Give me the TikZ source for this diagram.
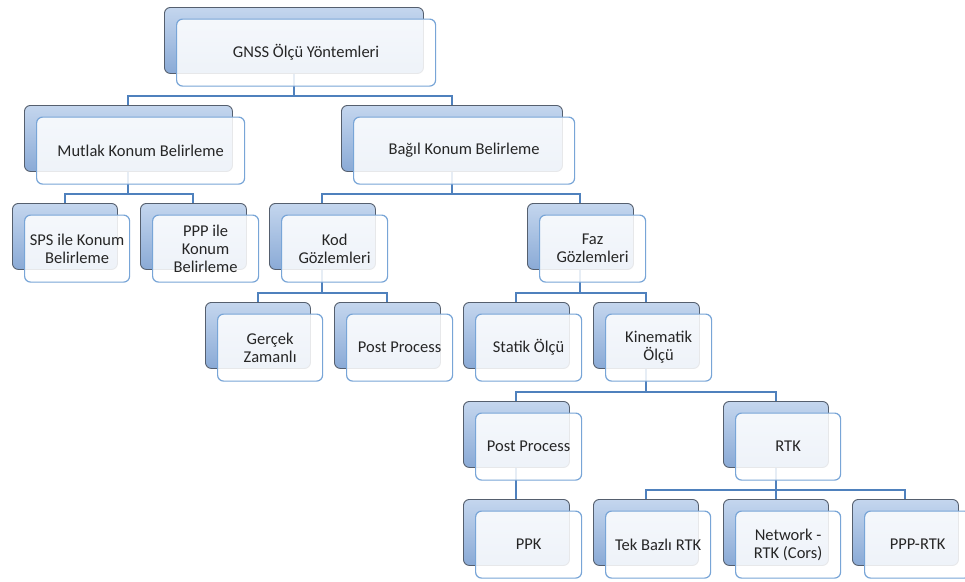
\documentclass[tikz,border=0pt]{standalone}
\usepackage{fontspec}
\setmainfont{Carlito}
\usetikzlibrary{positioning}
\pgfdeclarelayer{bg}
\pgfsetlayers{bg,main}

\definecolor{connblue}{RGB}{79,129,189}
\definecolor{frontedge}{RGB}{120,165,215}
\definecolor{backedge}{RGB}{85,95,110}
\definecolor{backtop}{RGB}{196,214,238}
\definecolor{backbot}{RGB}{138,170,214}
\definecolor{txt}{RGB}{38,38,38}

\tikzset{
  backbox/.style={draw=backedge, line width=0.9pt, rounded corners=6pt,
    top color=backtop, bottom color=backbot, minimum height=66pt,
    inner sep=0pt, anchor=north west},
  frontbox/.style={draw=frontedge, line width=1.2pt, rounded corners=6pt,
    fill=white, fill opacity=0.86, text opacity=1, text=txt,
    minimum height=67pt, inner sep=2pt, anchor=north west, align=center,
    font=\fontsize{16.5}{18}\selectfont},
  conn/.style={draw=connblue, line width=2pt},
}

% #1 name, #2 left, #3 top, #4 width, #5 label
\newcommand\boxpair[5]{%
  \node[backbox, minimum width=#4pt] (#1b) at (#2pt,-#3pt) {};
  \node[frontbox, minimum width=#4pt] (#1) at ([xshift=12pt,yshift=-11.5pt]#1b.north west) {#5};
}

\begin{document}
\begin{tikzpicture}
\useasboundingbox (0pt,0pt) rectangle (965pt,-581pt);

% level 1
\boxpair{gnss}{164}{7}{259}{GNSS Ölçü Yöntemleri}
% level 2
\boxpair{mut}{24}{105}{208}{Mutlak Konum Belirleme}
\boxpair{bag}{341}{105}{221}{Bağıl Konum Belirleme}
% level 3
\boxpair{sps}{12}{203}{105}{SPS ile Konum\\Belirleme}
\boxpair{ppp}{140}{203}{106}{PPP ile\\Konum\\Belirleme}
\boxpair{kod}{269}{203}{106}{Kod\\Gözlemleri}
\boxpair{faz}{527}{203}{106}{Faz\\Gözlemleri}
% level 4
\boxpair{ger}{205}{302}{105}{Gerçek\\Zamanlı}
\boxpair{ppa}{334}{302}{106}{Post Process}
\boxpair{sta}{463}{302}{106}{Statik Ölçü}
\boxpair{kin}{593}{302}{106}{Kinematik\\Ölçü}
% level 5
\boxpair{ppb}{463}{401}{106}{Post Process}
\boxpair{rtk}{723}{401}{105}{RTK}
% level 6
\boxpair{ppk}{463}{499}{106}{PPK}
\boxpair{tek}{593}{499}{105}{Tek Bazlı RTK}
\boxpair{net}{723}{499}{105}{Network -\\RTK (Cors)}
\boxpair{prt}{852}{499}{106}{PPP-RTK}

% white page and connectors, drawn behind the boxes
\begin{pgfonlayer}{bg}
  \fill[white] (0pt,0pt) rectangle (965pt,-581pt);
  \foreach \p/\c in {gnss/mut, gnss/bag, mut/sps, mut/ppp, bag/kod, bag/faz,
                     kod/ger, kod/ppa, faz/sta, faz/kin, kin/ppb, kin/rtk,
                     ppb/ppk, rtk/tek, rtk/net, rtk/prt}
    \draw[conn] (\c b.north) -- ++(0pt,9pt) -| (\p b.south);
\end{pgfonlayer}
\end{tikzpicture}
\end{document}
